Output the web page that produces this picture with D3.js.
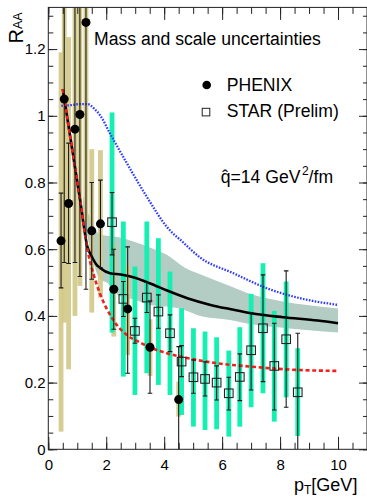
<!DOCTYPE html>
<html lang="en">
<head>
  <meta charset="UTF-8">
  <title>RAA vs pT</title>
  <script src="https://d3js.org/d3.v7.min.js"></script>
  <style>
    body {
      margin: 0;
      padding: 0;
      background: #fff;
    }
    svg {
      display: block;
      font-family: 'Liberation Sans', Arial, sans-serif;
    }
  </style>
</head>
<body>
  <svg id="chart" width="367" height="497"></svg>

  <script>
    // PHENIX (filled circles)
    var phenixX      = [0.44, 0.55, 0.70, 0.92, 1.09, 1.30, 1.50, 1.80, 2.26, 2.74, 3.51, 4.50];
    var phenixY      = [0.625, 1.05, 0.737, 0.96, 1.004, 1.28, 0.655, 0.676, 0.48, 0.421, 0.306, 0.149];
    var phenixStatLo = [0.484, 0.56, 0.557, 0.56, 0.518, 0.48, 0.51, 0.545, 0.36, 0.228, 0.168, 0.0];
    var phenixStatHi = [0.768, 1.54, 0.918, 1.36, 1.49, 2.08, 0.80, 0.807, 0.60, 0.607, 0.445, 0.308];
    var phenixSysLo  = [0.053, 0.38, 0.24, 0.40, 0.49, 0.68, 0.41, 0.455, 0.338, 0.283, 0.22, 0.098];
    var phenixSysHi  = [1.19, 1.72, 1.236, 1.52, 1.52, 1.88, 0.90, 0.897, 0.618, 0.553, 0.39, 0.203];

    // STAR preliminary (open squares)
    var starX      = [2.20, 2.59, 2.99, 3.40, 3.80, 4.20, 4.60, 5.01, 5.41, 5.81, 6.23, 6.61, 7.00, 7.41, 7.80, 8.21, 8.61];
    var starY      = [0.681, 0.451, 0.355, 0.455, 0.413, 0.348, 0.263, 0.216, 0.211, 0.20, 0.168, 0.217, 0.297, 0.363, 0.25, 0.33, 0.171];
    var starStatLo = [0.583, 0.398, 0.318, 0.41, 0.363, 0.293, 0.218, 0.168, 0.16, 0.148, 0.118, 0.146, 0.178, 0.203, 0.118, 0.126, 0.0];
    var starStatHi = [0.77, 0.503, 0.393, 0.50, 0.463, 0.403, 0.311, 0.268, 0.262, 0.25, 0.216, 0.286, 0.41, 0.523, 0.378, 0.535, 0.348];
    var starSysLo  = [0.35, 0.218, 0.163, 0.228, 0.193, 0.163, 0.103, 0.068, 0.058, 0.06, 0.038, 0.068, 0.126, 0.168, 0.083, 0.156, 0.04];
    var starSysHi  = [1.01, 0.683, 0.548, 0.683, 0.633, 0.533, 0.423, 0.363, 0.353, 0.336, 0.296, 0.366, 0.466, 0.558, 0.415, 0.503, 0.303];

    // theory curves
    var calcX  = [0.5, 0.8, 1.1, 1.35, 1.5, 1.65, 1.8, 2.13, 2.5, 2.93, 3.5, 4.1, 4.8, 5.6, 6.3, 7.0, 8.1, 9.3, 10];
    var calcY  = [1.08, 0.913, 0.746, 0.607, 0.578, 0.555, 0.543, 0.528, 0.524, 0.516, 0.498, 0.476, 0.453, 0.433, 0.42, 0.408, 0.396, 0.386, 0.378];
    var redX   = [0.5, 0.8, 1.1, 1.35, 1.55, 1.78, 2.24, 2.71, 3.17, 3.5, 4.09, 4.66, 5.83, 6.99, 8.14, 10];
    var redY   = [1.08, 0.913, 0.746, 0.60, 0.528, 0.468, 0.388, 0.343, 0.32, 0.306, 0.288, 0.276, 0.258, 0.248, 0.24, 0.235];
    var blueX  = [0.45, 0.8, 1.1, 1.35, 1.6, 1.8, 2.13, 2.71, 3.45, 4.09, 4.66, 5.24, 6.39, 7.54, 8.69, 10];
    var blueY  = [1.03, 1.032, 1.035, 1.035, 1.02, 1.0, 0.947, 0.858, 0.75, 0.667, 0.62, 0.575, 0.528, 0.483, 0.453, 0.433];

    // mass and scale uncertainty band
    var bandX  = [1.2, 1.45, 1.78, 2.02, 2.48, 2.93, 3.51, 4.09, 4.7, 5.24, 6.27, 7.0, 8.0, 9.0, 10];
    var bandLo = [0.70, 0.60, 0.51, 0.50, 0.458, 0.45, 0.433, 0.428, 0.418, 0.40, 0.388, 0.375, 0.365, 0.357, 0.35];
    var bandHi = [0.76, 0.69, 0.645, 0.64, 0.635, 0.623, 0.605, 0.583, 0.545, 0.525, 0.49, 0.465, 0.445, 0.432, 0.422];

    var yTickLabels = ['0', '0.2', '0.4', '0.6', '0.8', '1', '1.2'];
    var xTickLabels = ['0', '2', '4', '6', '8', '10'];

    var svg = d3.select('#chart');
    var x = d3.scaleLinear().domain([0, 11]).range([48.3, 367]);
    var y = d3.scaleLinear().domain([0, 1.325]).range([449.3, 7.4]);

    svg.append('defs').append('clipPath').attr('id', 'frame')
      .append('rect')
      .attr('x', x(0)).attr('y', y(1.325))
      .attr('width', x(11) - x(0)).attr('height', y(0) - y(1.325));

    var plot = svg.append('g').attr('clip-path', 'url(#frame)');

    // band
    var band = bandX.map(function(v, i) { return {x: v, lo: bandLo[i], hi: bandHi[i]}; });
    plot.append('path')
      .datum(band)
      .attr('fill', '#b3ccc4')
      .attr('d', d3.area()
        .x(function(d) { return x(d.x); })
        .y0(function(d) { return y(d.lo); })
        .y1(function(d) { return y(d.hi); })
        .curve(d3.curveMonotoneX));

    var phenix = phenixX.map(function(v, i) {
      return {x: v, y: phenixY[i], slo: phenixStatLo[i], shi: phenixStatHi[i], ylo: phenixSysLo[i], yhi: phenixSysHi[i]};
    });
    var star = starX.map(function(v, i) {
      return {x: v, y: starY[i], slo: starStatLo[i], shi: starStatHi[i], ylo: starSysLo[i], yhi: starSysHi[i]};
    });

    var barW = 4.8;
    plot.selectAll('rect.psys')
      .data(phenix).enter().append('rect')
      .attr('class', 'psys')
      .attr('x', function(d) { return x(d.x) - barW / 2; })
      .attr('width', barW)
      .attr('y', function(d) { return y(d.yhi); })
      .attr('height', function(d) { return y(d.ylo) - y(d.yhi); })
      .attr('fill', '#d2c886')
      .attr('fill-opacity', 0.9);

    plot.selectAll('rect.ssys')
      .data(star).enter().append('rect')
      .attr('class', 'ssys')
      .attr('x', function(d) { return x(d.x) - barW / 2; })
      .attr('width', barW)
      .attr('y', function(d) { return y(d.yhi); })
      .attr('height', function(d) { return y(d.ylo) - y(d.yhi); })
      .attr('fill', '#14f0b2');

    // curves
    function curve(xs, ys) {
      return d3.line()
        .x(function(d, i) { return x(xs[i]); })
        .y(function(d, i) { return y(ys[i]); })
        .curve(d3.curveMonotoneX)(xs);
    }
    plot.append('path')
      .attr('d', curve(blueX, blueY))
      .attr('fill', 'none')
      .attr('stroke', '#2e3cff')
      .attr('stroke-width', 2.3)
      .attr('stroke-dasharray', '1.6 1.4');
    plot.append('path')
      .attr('d', curve(calcX, calcY))
      .attr('fill', 'none')
      .attr('stroke', '#000')
      .attr('stroke-width', 2.6);
    plot.append('path')
      .attr('d', curve(redX, redY))
      .attr('fill', 'none')
      .attr('stroke', '#f31e1e')
      .attr('stroke-width', 2.6)
      .attr('stroke-dasharray', '4 2.7');

    // stat error bars
    function errBars(data, cls, colour) {
      var g = plot.append('g').attr('stroke', colour).attr('stroke-width', 1.1);
      g.selectAll('line.v' + cls).data(data).enter().append('line')
        .attr('x1', function(d) { return x(d.x); })
        .attr('x2', function(d) { return x(d.x); })
        .attr('y1', function(d) { return y(d.slo); })
        .attr('y2', function(d) { return y(d.shi); });
      var ends = [];
      data.forEach(function(d) {
        if (d.slo > 0) ends.push({x: d.x, v: d.slo});
        if (d.shi < 1.325) ends.push({x: d.x, v: d.shi});
      });
      g.selectAll('line.c' + cls).data(ends).enter().append('line')
        .attr('x1', function(d) { return x(d.x) - 2.3; })
        .attr('x2', function(d) { return x(d.x) + 2.3; })
        .attr('y1', function(d) { return y(d.v); })
        .attr('y2', function(d) { return y(d.v); });
    }
    errBars(phenix, 'p', '#1a1a1a');
    errBars(star, 's', '#1a1a1a');

    plot.selectAll('rect.smark')
      .data(star).enter().append('rect')
      .attr('class', 'smark')
      .attr('x', function(d) { return x(d.x) - 4.3; })
      .attr('y', function(d) { return y(d.y) - 4.3; })
      .attr('width', 8.6).attr('height', 8.6)
      .attr('fill', 'none')
      .attr('stroke', '#222')
      .attr('stroke-width', 1.1);

    plot.selectAll('circle.pmark')
      .data(phenix).enter().append('circle')
      .attr('class', 'pmark')
      .attr('cx', function(d) { return x(d.x); })
      .attr('cy', function(d) { return y(d.y); })
      .attr('r', 4.5)
      .attr('fill', '#000');

    // axes
    function ticks(step, max) { return d3.range(0, max + 1e-9, step); }
    var xMinor = ticks(0.5, 11), xMajor = ticks(2, 10);
    var yMinor = ticks(0.05, 1.3), yMajor = ticks(0.2, 1.2);

    function styleAxis(g) {
      g.select('.domain').remove();
      g.selectAll('line').attr('stroke', '#222').attr('stroke-width', 1);
      g.selectAll('text').attr('font-family', null).attr('fill', '#000');
    }

    svg.append('g').attr('transform', 'translate(0,' + y(0) + ')')
      .call(d3.axisBottom(x).tickValues(xMinor).tickSize(-6.5).tickFormat(''))
      .call(styleAxis);
    svg.append('g').attr('transform', 'translate(0,' + y(0) + ')')
      .call(d3.axisBottom(x).tickValues(xMajor).tickSize(-12.5).tickPadding(10.5)
        .tickFormat(function(d, i) { return xTickLabels[i]; }))
      .call(styleAxis)
      .attr('font-size', 15);
    svg.append('g').attr('transform', 'translate(0,' + y(1.325) + ')')
      .call(d3.axisTop(x).tickValues(xMinor).tickSize(-6.5).tickFormat(''))
      .call(styleAxis);
    svg.append('g').attr('transform', 'translate(0,' + y(1.325) + ')')
      .call(d3.axisTop(x).tickValues(xMajor).tickSize(-12.5).tickFormat(''))
      .call(styleAxis);

    svg.append('g').attr('transform', 'translate(' + x(0) + ',0)')
      .call(d3.axisLeft(y).tickValues(yMinor).tickSize(-5).tickFormat(''))
      .call(styleAxis);
    svg.append('g').attr('transform', 'translate(' + x(0) + ',0)')
      .call(d3.axisLeft(y).tickValues(yMajor).tickSize(-9).tickPadding(2.8)
        .tickFormat(function(d, i) { return yTickLabels[i]; }))
      .call(styleAxis)
      .attr('font-size', 15);
    svg.append('g').attr('transform', 'translate(' + x(11) + ',0)')
      .call(d3.axisRight(y).tickValues(yMinor).tickSize(-4).tickFormat(''))
      .call(styleAxis);
    svg.append('g').attr('transform', 'translate(' + x(11) + ',0)')
      .call(d3.axisRight(y).tickValues(yMajor).tickSize(-8).tickFormat(''))
      .call(styleAxis);

    svg.append('rect')
      .attr('x', x(0)).attr('y', y(1.325))
      .attr('width', x(11) - x(0)).attr('height', y(0) - y(1.325))
      .attr('fill', 'none').attr('stroke', '#222').attr('stroke-width', 1);

    // titles
    var yt = svg.append('text')
      .attr('transform', 'translate(22.7,43.5)rotate(-90)');
    yt.append('tspan').attr('font-size', 20).text('R');
    yt.append('tspan').attr('font-size', 12.5).attr('dy', -1).text('AA');

    var xt = svg.append('text').attr('x', 294).attr('y', 490.5);
    xt.append('tspan').attr('font-size', 18).text('p');
    xt.append('tspan').attr('font-size', 12).attr('dy', 3).text('T');
    xt.append('tspan').attr('font-size', 18).attr('dy', -3).text('[GeV]');

    svg.append('text').attr('x', 94).attr('y', 45.3)
      .attr('font-size', 17.6).text('Mass and scale uncertainties');

    // legend
    svg.append('circle').attr('cx', 206.7).attr('cy', 85).attr('r', 4.3).attr('fill', '#000');
    svg.append('text').attr('x', 226.7).attr('y', 90.6).attr('font-size', 17.6).text('PHENIX');
    svg.append('rect').attr('x', 202.2).attr('y', 108.3).attr('width', 7.6).attr('height', 7.6)
      .attr('fill', 'none').attr('stroke', '#222').attr('stroke-width', 1);
    svg.append('text').attr('x', 226.7).attr('y', 117.4).attr('font-size', 17.6).text('STAR (Prelim)');

    var qt = svg.append('text').attr('x', 220.7).attr('y', 183.3).attr('font-size', 17.6);
    qt.append('tspan').text('q\u0302=14 GeV');
    qt.append('tspan').attr('font-size', 12).attr('dy', -8).attr('dx', 1.5).text('2');
    qt.append('tspan').attr('dy', 8).text('/fm');
  </script>
</body>
</html>
